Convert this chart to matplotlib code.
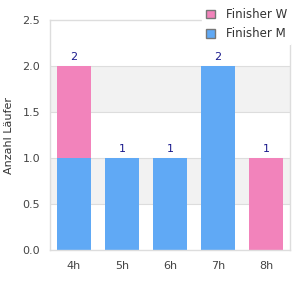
import matplotlib.pyplot as plt
from matplotlib.patches import Patch

categories = ["4h", "5h", "6h", "7h", "8h"]
finisher_m = [1, 1, 1, 2, 0]
finisher_w = [1, 0, 0, 0, 1]
totals = [m + w for m, w in zip(finisher_m, finisher_w)]

pink = "#F283BB"
blue = "#60A9F5"
grid = "#DDDDDD"

fig = plt.figure(figsize=(3, 3), dpi=100)
ax = fig.add_axes([50 / 300, 50 / 300, 240 / 300, 230 / 300])

x = range(len(categories))
ax.set_xlim(-0.5, len(categories) - 0.5)
ax.set_ylim(0, 2.5)

# alternating bands
for lo in [0.5, 1.5]:
    ax.axhspan(lo, lo + 0.5, color="#F2F2F2", zorder=0, lw=0)
for y in [0.5, 1.0, 1.5, 2.0]:
    ax.axhline(y, color=grid, lw=0.8, zorder=1)

ax.bar(x, finisher_m, width=0.72, color=blue, zorder=2)
ax.bar(x, finisher_w, width=0.72, bottom=finisher_m, color=pink, zorder=2)

for i, t in enumerate(totals):
    ax.text(i, t + 0.04, str(t), ha="center", va="bottom", fontsize=8, color="#1A1A8C")

ax.set_xticks(list(x))
ax.set_xticklabels(categories)
ax.set_yticks([0, 0.5, 1.0, 1.5, 2.0, 2.5])
ax.set_yticklabels(["0.0", "0.5", "1.0", "1.5", "2.0", "2.5"])
ax.tick_params(length=0, labelsize=8, colors="#444444", pad=7)
ax.tick_params(axis="x", pad=8)
for s in ax.spines.values():
    s.set_color(grid)
    s.set_linewidth(1)

ax.set_ylabel("Anzahl Läufer", fontsize=8, color="#333333", labelpad=6)

handles = [Patch(facecolor=pink, edgecolor="#777777", label="Finisher W"),
           Patch(facecolor=blue, edgecolor="#777777", label="Finisher M")]
leg = fig.legend(handles=handles, loc="upper right", bbox_to_anchor=(0.99, 1.005),
                 fontsize=8.5, frameon=True, handlelength=0.75, handleheight=0.75,
                 handletextpad=1.0, labelspacing=0.55, borderpad=0.3)
leg.get_frame().set_facecolor("white")
leg.get_frame().set_edgecolor("white")
leg.get_frame().set_alpha(1)
for t in leg.get_texts():
    t.set_color("#333333")

fig.savefig("out.png", dpi=100)
